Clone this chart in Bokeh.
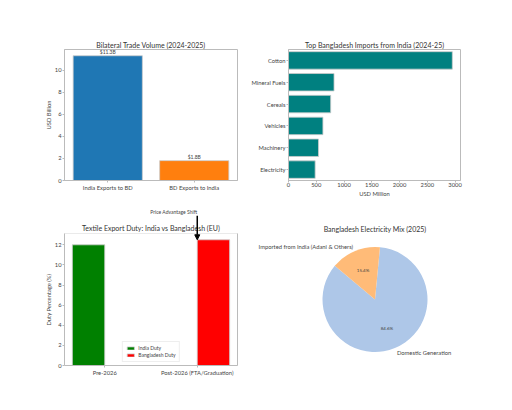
import numpy as np
from bokeh.plotting import figure
from bokeh.models import (ColumnDataSource, LabelSet, Label, Arrow, NormalHead,
                          Range1d, FactorRange, Title, LinearAxis, BoxAnnotation)
from bokeh.layouts import row, column
from bokeh.embed import file_html
from bokeh.resources import INLINE
from bokeh.core.properties import value

FONT = "Lato"

# ---- data ----
trade_cats = ["India Exports to BD", "BD Exports to India"]
trade_vals = [11.3, 1.8]
trade_labels = ["$11.3B", "$1.8B"]
trade_colors = ["#1f77b4", "#ff7f0e"]
trade_ticks = [0, 2, 4, 6, 8, 10]

import_cats = ["Cotton", "Mineral Fuels", "Cereals", "Vehicles", "Machinery", "Electricity"]
import_vals = [2950, 820, 760, 620, 540, 480]
import_ticks = [0, 500, 1000, 1500, 2000, 2500, 3000]

duty_periods = ["Pre-2026", "Post-2026 (FTA/Graduation)"]
india_duty = [12, 0]
bd_duty = [0, 12.5]
duty_ticks = [0, 2, 4, 6, 8, 10, 12]

mix_labels = ["Domestic Generation", "Imported from India (Adani & Others)"]
mix_vals = [84.6, 15.4]
mix_colors = ["#aec7e8", "#ffbb78"]

TITLE_C = "#333333"
TICK_C = "#444444"
SPINE_C = "#bbbbbb"
EDGE_C = "#cccccc"
TICK_FS = "5.8px"
TITLE_FS = "7px"


def style(p):
    p.outline_line_color = SPINE_C
    p.xgrid.visible = False
    p.ygrid.visible = False
    p.background_fill_color = "white"
    p.border_fill_color = "white"
    p.title.text_font = FONT
    p.title.text_font_size = TITLE_FS
    p.title.text_font_style = "normal"
    p.title.text_color = TITLE_C
    p.title.align = "center"
    p.title.standoff = 2
    for ax in p.axis:
        ax.axis_line_color = SPINE_C
        ax.major_tick_line_color = SPINE_C
        ax.minor_tick_line_color = None
        ax.major_tick_out = 2
        ax.major_tick_in = 0
        ax.major_label_standoff = 1
        ax.axis_label_standoff = 2
        ax.major_label_text_font = FONT
        ax.major_label_text_font_size = TICK_FS
        ax.major_label_text_color = TICK_C
        ax.axis_label_text_font = FONT
        ax.axis_label_text_font_size = TICK_FS
        ax.axis_label_text_font_style = "normal"
        ax.axis_label_text_color = TICK_C


# ---- panel 1 ----
src1 = ColumnDataSource(dict(cat=trade_cats, val=trade_vals, lab=trade_labels, color=trade_colors))
p1 = figure(x_range=FactorRange(*trade_cats), y_range=Range1d(0, max(trade_vals) * 1.05),
            width=243, height=205, min_border_left=64, min_border_right=6,
            min_border_top=49, min_border_bottom=25,
            title="Bilateral Trade Volume (2024-2025)",
            output_backend="svg", toolbar_location=None)
p1.vbar(x="cat", top="val", width=0.8, fill_color="color", line_color=EDGE_C,
        line_width=0.8, source=src1)
p1.add_layout(LabelSet(x="cat", y="val", text="lab", source=src1, text_align="center",
                       text_baseline="bottom", y_offset=1, text_font=value(FONT),
                       text_font_size="5px", text_color=TICK_C))
p1.yaxis.ticker = trade_ticks
p1.yaxis.axis_label = "USD Billion"
style(p1)
p1.yaxis.axis_label_standoff = 0

# ---- panel 2 ----
src2 = ColumnDataSource(dict(cat=import_cats, val=import_vals))
p2 = figure(y_range=FactorRange(*import_cats[::-1]), x_range=Range1d(0, max(import_vals) * 1.05),
            width=261, height=205, min_border_left=45, min_border_right=44,
            min_border_top=49, min_border_bottom=25,
            title="Top Bangladesh Imports from India (2024-25)",
            output_backend="svg", toolbar_location=None)
p2.hbar(y="cat", right="val", height=0.8, fill_color="teal", line_color=EDGE_C,
        line_width=0.8, source=src2)
p2.xaxis.ticker = import_ticks
p2.xaxis.axis_label = "USD Million"
style(p2)
p2.xaxis.major_label_standoff = 0
p2.xaxis.axis_label_standoff = 0

# ---- panel 3 (frame extended upward so the annotation can be drawn) ----
bw = 0.35
xi = np.arange(len(duty_periods))
x_lo, x_hi = -bw - 0.085, len(duty_periods) - 1 + bw + 0.085
y_top = max(bd_duty + india_duty) * 1.05
px_per_unit = 132 / y_top
y_ext = y_top + 28 / px_per_unit
src3a = ColumnDataSource(dict(x=xi - bw / 2, top=india_duty))
src3b = ColumnDataSource(dict(x=xi + bw / 2, top=bd_duty))
p3 = figure(x_range=Range1d(x_lo, x_hi), y_range=Range1d(0, y_ext),
            width=243, height=197, min_border_left=64, min_border_right=6,
            min_border_top=0, min_border_bottom=37,
            output_backend="svg", toolbar_location=None)
p3.vbar(x="x", top="top", width=bw, fill_color="green", line_color=EDGE_C, line_width=0.8,
        source=src3a, legend_label="India Duty")
p3.vbar(x="x", top="top", width=bw, fill_color="red", line_color=EDGE_C, line_width=0.8,
        source=src3b, legend_label="Bangladesh Duty")
p3.add_layout(Title(text="Duty Percentage (%)", align="left", offset=40,
                    text_font=FONT, text_font_size=TICK_FS, text_font_style="normal",
                    text_color=TICK_C, standoff=0), "left")
p3.xaxis.ticker = list(xi)
p3.xaxis.major_label_overrides = {int(i): s for i, s in zip(xi, duty_periods)}
p3.yaxis.ticker = duty_ticks
style(p3)
p3.add_layout(LinearAxis(bounds=(0, y_top), ticker=[], axis_line_color=SPINE_C,
                         minor_tick_line_color=None), "right")
p3.outline_line_color = None
p3.yaxis[0].bounds = (0, y_top)
p3.add_layout(BoxAnnotation(left=x_lo, right=x_hi, bottom=0, top=y_top,
                            fill_color=None, line_color=SPINE_C, line_width=1))
lg = p3.legend[0]
lg.location = "bottom_center"
lg.label_text_font = FONT
lg.label_text_font_size = "5px"
lg.label_text_color = TICK_C
lg.glyph_width = 9
lg.glyph_height = 4
lg.label_height = 5
lg.label_standoff = 4
lg.padding = 3
lg.spacing = 1
lg.margin = 3
lg.border_line_color = "#dddddd"
p3.add_layout(Label(x=(x_lo + x_hi) / 2, y=y_top + 1.5 / px_per_unit,
                    text="Textile Export Duty: India vs Bangladesh (EU)",
                    text_align="center", text_baseline="bottom", text_font=FONT,
                    text_font_size=TITLE_FS, text_color=TITLE_C))
p3.add_layout(Arrow(end=NormalHead(size=5, fill_color="black", line_color="black"),
                    x_start=1, y_start=14.9, x_end=1, y_end=max(bd_duty),
                    line_width=1.5, line_color="black"))
p3.add_layout(Label(x=1, y=15.3, text="Price Advantage Shift", text_align="right",
                    text_baseline="middle", text_font=FONT, text_font_size="5px",
                    text_color=TICK_C))

# ---- panel 4 ----
R = 52.5
p4 = figure(x_range=Range1d(-131.5 / R, (261 - 131.5) / R), y_range=Range1d(-66 / R, 94 / R),
            width=261, height=197, min_border_left=0, min_border_right=0,
            min_border_top=0, min_border_bottom=37, x_axis_type=None, y_axis_type=None,
            output_backend="svg", toolbar_location=None)
p4.outline_line_color = None
p4.xgrid.visible = False
p4.ygrid.visible = False
frac = np.array(mix_vals) / np.sum(mix_vals)
start0 = np.deg2rad(140)
ends = start0 + 2 * np.pi * np.cumsum(frac)
starts = ends - 2 * np.pi * frac
src4 = ColumnDataSource(dict(s=starts, e=ends, c=mix_colors))
p4.wedge(x=0, y=0, radius=1, start_angle="s", end_angle="e", fill_color="c",
         line_color=None, source=src4)
mids = (starts + ends) / 2
for lab, v, m in zip(mix_labels, mix_vals, mids):
    lx, ly = 1.1 * np.cos(m), 1.1 * np.sin(m)
    p4.add_layout(Label(x=lx, y=ly, text=lab, text_align="right" if lx < 0 else "left",
                        text_baseline="middle", text_font=FONT, text_font_size=TICK_FS,
                        text_color=TICK_C))
    qx, qy = 0.6 * np.cos(m), 0.6 * np.sin(m)
    p4.add_layout(Label(x=qx, y=qy, text="%.1f%%" % v, text_align="center",
                        text_baseline="middle", text_font=FONT, text_font_size="4.5px",
                        text_color=TICK_C))
p4.add_layout(Label(x=0, y=71 / R, text="Bangladesh Electricity Mix (2025)",
                    text_align="center", text_baseline="middle", text_font=FONT,
                    text_font_size=TITLE_FS, text_color=TITLE_C))

layout = column(row(p1, p2), row(p3, p4))
open("out.html", "w").write(file_html(layout, INLINE))
